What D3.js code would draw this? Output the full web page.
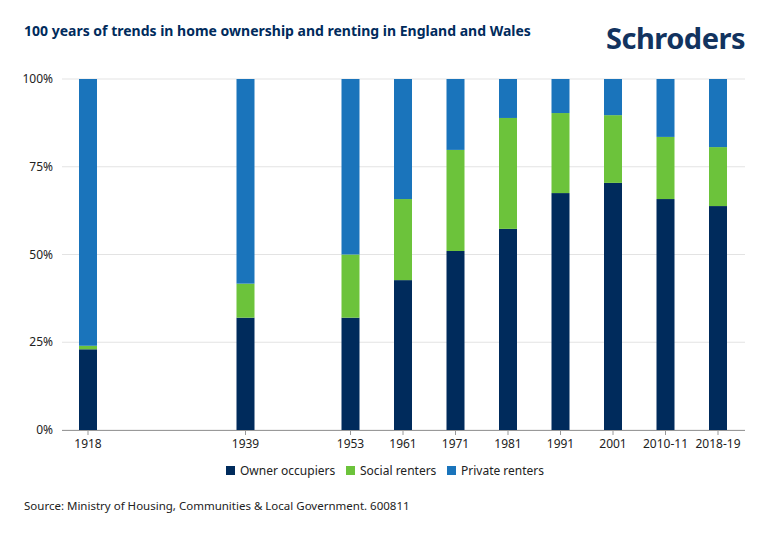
<!DOCTYPE html>
<html><head><meta charset="utf-8">
<script src="https://cdn.jsdelivr.net/npm/d3@7"></script>
<style>body{margin:0;background:#fff;font-family:"Noto Sans","Open Sans",sans-serif}</style>
</head><body><svg id="c" width="770" height="535"></svg>
<script>
const slots = ["1918","s1","s2","1939","s3","1953","1961","1971","1981","1991","2001","2010-11","2018-19"];
const years = ["1918","1939","1953","1961","1971","1981","1991","2001","2010-11","2018-19"];
const owner = [23,32,32,42.7,51,57.3,67.5,70.4,65.8,63.8];
const social = [1,9.7,18,23.1,28.8,31.6,22.8,19.3,17.7,16.8];
const seriesNames = ["Owner occupiers","Social renters","Private renters"];
const colors = ["#002b5c","#6cc33b","#1a74bb"];
const yTicks = [0,25,50,75,100];

const svg = d3.select("#c");
const x = d3.scalePoint().domain(slots).range([88,718]);
const y = d3.scaleLinear().domain([0,100]).range([430,79]);
const bw = 18;

svg.append("text").attr("x",24).attr("y",36).attr("font-size",14).attr("font-weight","bold").attr("fill","#002b5c")
  .text("100 years of trends in home ownership and renting in England and Wales");
svg.append("text").attr("x",745).attr("y",49).attr("text-anchor","end").attr("font-size",29).attr("font-weight","bold")
  .attr("fill","#12335f").attr("letter-spacing","-0.5").text("Schroders");

svg.selectAll(".g").data(yTicks).join("line").attr("x1",62).attr("x2",745)
  .attr("y1",d=>y(d)).attr("y2",d=>y(d)).attr("stroke","#e3e3e3");
svg.selectAll(".yl").data(yTicks).join("text").attr("x",53).attr("y",d=>y(d)+4).attr("text-anchor","end")
  .attr("font-size",12).attr("fill","#222").text(d=>d+"%");

const rows = years.map((yr,i)=>({yr, vals:[owner[i],social[i],100-owner[i]-social[i]]}));
rows.forEach(r=>{
  let base=0;
  r.vals.forEach((v,k)=>{
    svg.append("rect").attr("x",x(r.yr)-bw/2).attr("width",bw)
      .attr("y",y(base+v)).attr("height",y(base)-y(base+v)).attr("fill",colors[k]);
    base+=v;
  });
});

svg.append("line").attr("x1",62).attr("x2",745).attr("y1",430.5).attr("y2",430.5).attr("stroke","#999");
svg.selectAll(".tk").data(years).join("line").attr("x1",d=>x(d)).attr("x2",d=>x(d)).attr("y1",430).attr("y2",435).attr("stroke","#999");
svg.selectAll(".xl").data(years).join("text").attr("x",d=>x(d)).attr("y",448).attr("text-anchor","middle")
  .attr("font-size",12).attr("fill","#222").text(d=>d);

const lx=[226,346,447];
seriesNames.forEach((n,k)=>{
  svg.append("rect").attr("x",lx[k]).attr("y",466).attr("width",9).attr("height",9).attr("fill",colors[k]);
  svg.append("text").attr("x",lx[k]+14).attr("y",475).attr("font-size",12).attr("fill","#222").text(n);
});
svg.append("text").attr("x",24).attr("y",510).attr("font-size",11.5).attr("fill","#222")
  .text("Source: Ministry of Housing, Communities & Local Government. 600811");
</script></body></html>
